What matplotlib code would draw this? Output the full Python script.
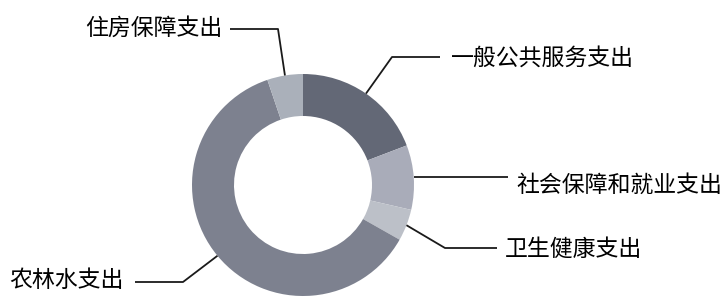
import numpy as np
import matplotlib
matplotlib.use("Agg")
import matplotlib.pyplot as plt

plt.rcParams['font.family'] = ['Noto Sans CJK SC', 'DejaVu Sans']

categories = ["一般公共服务支出", "社会保障和就业支出", "卫生健康支出", "农林水支出", "住房保障支出"]
shares = [19.2, 9.4, 4.6, 61.6, 5.2]
colors = ["#636876", "#a9acb9", "#bcc0c8", "#7d818f", "#aab0ba"]

# label layout (pixel coordinates, y down): elbow point, line end, text anchor, alignment
label_layout = {
    "一般公共服务支出": dict(elbow=(392, 57), end=(440, 57), text=(451, 58), ha="left"),
    "社会保障和就业支出": dict(elbow=None, end=(508, None), text=(516, 185), ha="left"),
    "卫生健康支出": dict(elbow=(445, 248), end=(497, 248), text=(505, 249), ha="left"),
    "农林水支出": dict(elbow=(183, 282), end=(135, 282), text=(124, 280), ha="right"),
    "住房保障支出": dict(elbow=(278, 29), end=(230, 29), text=(222, 28), ha="right"),
}

W, H = 723, 300
fig = plt.figure(figsize=(W / 100, H / 100), dpi=100)
ax = fig.add_axes([0, 0, 1, 1])

cx, cy_pix = 303, 185
R, r_in = 111, 69
center = (cx, H - cy_pix)

wedges, _ = ax.pie(shares, colors=colors, startangle=90, counterclock=False,
                   radius=R, center=center, frame=True,
                   wedgeprops=dict(width=R - r_in, linewidth=0))
ax.set_xlim(0, W)
ax.set_ylim(0, H)
ax.set_aspect("equal")
ax.axis("off")

def flip(p):
    return (p[0], H - p[1])

for w, name in zip(wedges, categories):
    mid = np.deg2rad((w.theta1 + w.theta2) / 2)
    ax_pt = (center[0] + R * np.cos(mid), center[1] + R * np.sin(mid))
    lay = label_layout[name]
    pts = [ax_pt]
    if lay["elbow"] is not None:
        pts.append(flip(lay["elbow"]))
        pts.append(flip(lay["end"]))
    else:
        pts.append((lay["end"][0], ax_pt[1]))
    xs, ys = zip(*pts)
    ax.plot(xs, ys, color="#1a1a1a", lw=1.3, solid_capstyle="butt")
    tx, ty = flip(lay["text"])
    ax.text(tx, ty, name, ha=lay["ha"], va="center", fontsize=16.5,
            fontweight="medium", color="black")

fig.savefig("out.png", dpi=100)
